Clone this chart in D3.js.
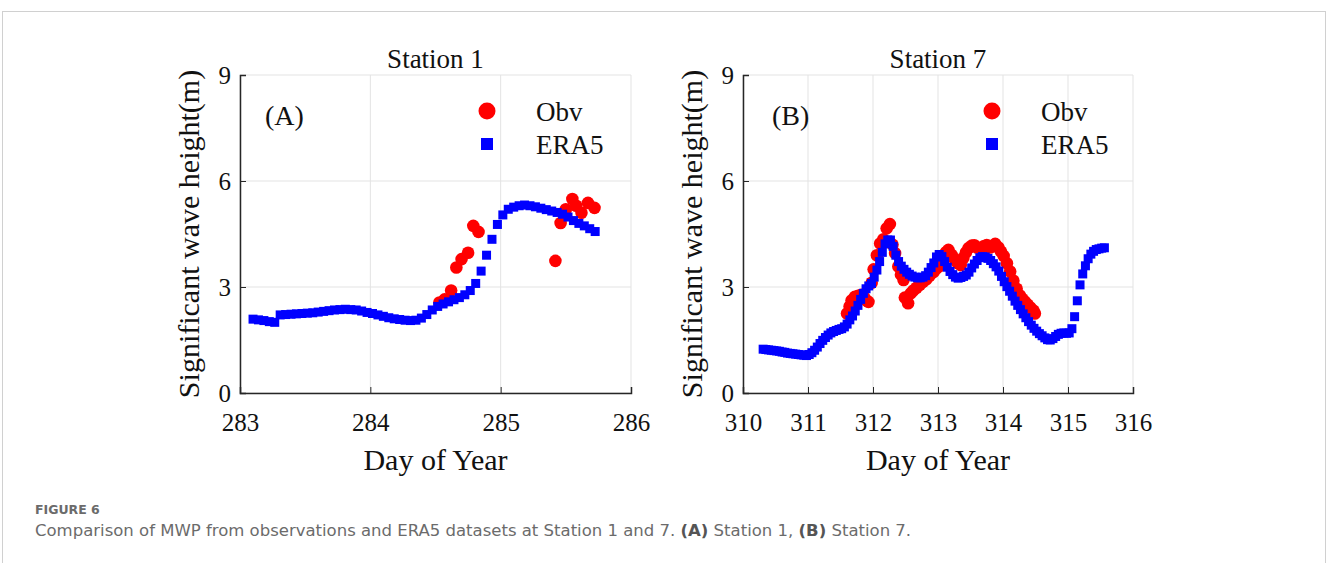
<!DOCTYPE html>
<html>
<head>
<meta charset="utf-8">
<script src="https://cdn.jsdelivr.net/npm/d3@7/dist/d3.min.js"></script>
<style>
  body { margin: 0; background: #fff; }
  svg { display: block; }
  .serif { font-family: "Liberation Serif", "Times New Roman", serif; fill: #111; }
  .cap { font-family: "DejaVu Sans", "Open Sans", sans-serif; fill: #6b6b6b; }
</style>
</head>
<body>
<svg id="chart" width="1328" height="563"></svg>
<script>
// Station 1: hourly ERA5 starting at day 283.1
const era1Start = 283.1;
const era1Hs = [2.09, 2.07, 2.05, 2.02, 2.00, 2.21, 2.22, 2.23, 2.24, 2.25, 2.26, 2.27,
  2.29, 2.31, 2.33, 2.35, 2.36, 2.37, 2.36, 2.35, 2.32, 2.28, 2.25, 2.21,
  2.17, 2.13, 2.10, 2.08, 2.06, 2.05, 2.06, 2.12, 2.22, 2.35, 2.45, 2.52,
  2.58, 2.64, 2.70, 2.78, 2.90, 3.10, 3.45, 3.90, 4.35, 4.77, 5.04, 5.20,
  5.26, 5.30, 5.32, 5.30, 5.27, 5.23, 5.19, 5.15, 5.11, 5.06, 4.98, 4.88,
  4.80, 4.73, 4.65, 4.57];
const obv1Day = [284.53, 284.57, 284.62, 284.66, 284.70, 284.75, 284.79, 284.83,
  285.42, 285.46, 285.50, 285.55, 285.58, 285.62, 285.67, 285.72];
const obv1Hs = [2.56, 2.65, 2.90, 3.55, 3.79, 3.97, 4.73, 4.56,
  3.74, 4.81, 5.20, 5.49, 5.30, 5.10, 5.38, 5.24];

// Station 7: hourly ERA5 starting at day 310.31
const era7Start = 310.31;
const era7Hs = [1.24, 1.23, 1.22, 1.21, 1.20, 1.19, 1.18, 1.16, 1.15, 1.13, 1.12, 1.11,
  1.10, 1.09, 1.08, 1.07, 1.06, 1.09, 1.14, 1.21, 1.30, 1.40, 1.49, 1.57,
  1.64, 1.70, 1.74, 1.77, 1.80, 1.82, 1.87, 1.95, 2.07, 2.18, 2.32, 2.48,
  2.65, 2.82, 2.95, 3.03, 3.10, 3.28, 3.48, 3.72, 3.98, 4.22, 4.33, 4.33,
  4.15, 3.90, 3.72, 3.59, 3.50, 3.42, 3.36, 3.31, 3.28, 3.26, 3.26, 3.28,
  3.32, 3.42, 3.55, 3.68, 3.85, 3.92, 3.86, 3.72, 3.56, 3.44, 3.35, 3.28,
  3.25, 3.27, 3.30, 3.34, 3.42, 3.54, 3.65, 3.75, 3.83, 3.86, 3.85, 3.81,
  3.75, 3.66, 3.57, 3.45, 3.30, 3.15, 3.01, 2.88, 2.74, 2.60, 2.48, 2.36,
  2.24, 2.13, 2.02, 1.92, 1.83, 1.75, 1.68, 1.62, 1.56, 1.51, 1.50, 1.54,
  1.60, 1.66, 1.69, 1.70, 1.69, 1.70, 1.82, 2.16, 2.61, 3.06, 3.37, 3.60,
  3.80, 3.93, 4.01, 4.06, 4.08, 4.10, 4.11];
const obv7Day = [311.60, 311.64, 311.67, 311.72, 311.77, 311.82, 311.86, 311.90, 311.93,
  311.98, 312.01, 312.06, 312.11, 312.16, 312.21, 312.26, 312.30, 312.34, 312.39,
  312.43, 312.47, 312.49, 312.54, 312.58, 312.62, 312.67, 312.72, 312.77, 312.82,
  312.87, 312.93, 312.98, 313.03, 313.08, 313.12, 313.16, 313.21, 313.26, 313.30,
  313.35, 313.39, 313.43, 313.47, 313.52, 313.56, 313.60, 313.65, 313.70, 313.75,
  313.80, 313.84, 313.88, 313.93, 313.97, 314.01, 314.06, 314.11, 314.16, 314.21,
  314.26, 314.30, 314.34, 314.38, 314.42, 314.47, 314.49];
const obv7Hs = [2.25, 2.45, 2.62, 2.72, 2.75, 2.78, 2.72, 2.62, 2.58,
  3.12, 3.50, 3.90, 4.23, 4.35, 4.66, 4.78, 4.20, 3.96, 3.58,
  3.35, 3.20, 2.70, 2.54, 2.82, 2.90, 2.98, 3.06, 3.15, 3.22,
  3.32, 3.42, 3.53, 3.60, 3.75, 3.98, 4.05, 3.91, 3.78, 3.68,
  3.62, 3.82, 3.98, 4.10, 4.17, 4.18, 4.12, 4.10, 4.15, 4.19,
  4.12, 4.15, 4.22, 4.12, 4.00, 3.88, 3.67, 3.44, 3.18, 2.95,
  2.76, 2.66, 2.58, 2.50, 2.42, 2.33, 2.25];

const yTicks = [0, 3, 6, 9];
const xTicks1 = [283, 284, 285, 286];
const xTicks7 = [310, 311, 312, 313, 314, 315, 316];

const svg = d3.select('#chart');
svg.append('rect').attr('width', 1328).attr('height', 563).attr('fill', '#fff');
svg.append('rect').attr('x', 2.5).attr('y', 11.5).attr('width', 1323).attr('height', 600)
  .attr('fill', 'none').attr('stroke', '#d0d0d0');

const plotTop = 75, plotBottom = 393;

function drawPanel(p) {
  const x = d3.scaleLinear().domain(p.domain).range([p.left, p.right]);
  const y = d3.scaleLinear().domain([0, 9]).range([plotBottom, plotTop]);
  const g = svg.append('g');

  // grid
  g.append('g').selectAll('line').data(p.xTicks).join('line')
    .attr('x1', d => x(d)).attr('x2', d => x(d)).attr('y1', plotTop).attr('y2', plotBottom)
    .attr('stroke', '#e3e3e3').attr('stroke-width', 1);
  g.append('g').selectAll('line').data(yTicks).join('line')
    .attr('x1', p.left).attr('x2', p.right).attr('y1', d => y(d)).attr('y2', d => y(d))
    .attr('stroke', '#e3e3e3').attr('stroke-width', 1);

  // axes
  const fmt = d3.format('d');
  const xAxis = d3.axisBottom(x).tickValues(p.xTicks).tickFormat(fmt).tickSize(-6).tickPadding(14);
  const gx = g.append('g').attr('transform', `translate(0,${plotBottom})`).call(xAxis);
  const yAxis = d3.axisLeft(y).tickValues(yTicks).tickFormat(fmt).tickSize(-6).tickPadding(14);
  const gy = g.append('g').attr('transform', `translate(${p.left},0)`).call(yAxis);
  [gx, gy].forEach(a => {
    a.select('.domain').attr('stroke', '#262626').attr('stroke-width', 1.5);
    a.selectAll('.tick line').attr('stroke', '#262626').attr('stroke-width', 1);
    a.selectAll('.tick text').attr('class', 'serif').attr('font-size', 25).attr('fill', '#111');
  });
  gx.selectAll('.tick text').attr('dy', '0.71em').attr('y', 20);
  gy.selectAll('.tick text').attr('x', -9);

  // data: observations first, ERA5 drawn over them
  g.append('g').selectAll('circle').data(p.obvDay).join('circle')
    .attr('cx', d => x(d)).attr('cy', (d, i) => y(p.obvHs[i])).attr('r', 6.3)
    .attr('fill', '#ff0000');
  const s = 9;
  g.append('g').selectAll('rect').data(p.eraHs).join('rect')
    .attr('x', (d, i) => x(p.eraStart + i / 24) - s / 2).attr('y', d => y(d) - s / 2)
    .attr('width', s).attr('height', s).attr('fill', '#0000ff');

  // title, labels
  g.append('text').attr('class', 'serif').attr('x', (p.left + p.right) / 2).attr('y', 68)
    .attr('text-anchor', 'middle').attr('font-size', 27).text(p.title);
  g.append('text').attr('class', 'serif').attr('x', (p.left + p.right) / 2).attr('y', 470)
    .attr('text-anchor', 'middle').attr('font-size', 30).text('Day of Year');
  g.append('text').attr('class', 'serif')
    .attr('transform', `translate(${p.left - 41},${(plotTop + plotBottom) / 2}) rotate(-90)`)
    .attr('text-anchor', 'middle').attr('font-size', 30).text('Significant wave height(m)');
  g.append('text').attr('class', 'serif').attr('x', p.left + p.tagX).attr('y', 125)
    .attr('font-size', 28).text(p.tag);

  // legend
  const lx = p.left + p.legX;
  g.append('circle').attr('cx', lx).attr('cy', 111).attr('r', 8.5).attr('fill', '#ff0000');
  g.append('rect').attr('x', lx - 6).attr('y', 138).attr('width', 12).attr('height', 12).attr('fill', '#0000ff');
  g.append('text').attr('class', 'serif').attr('x', lx + 49).attr('y', 121).attr('font-size', 27).text('Obv');
  g.append('text').attr('class', 'serif').attr('x', lx + 49).attr('y', 154).attr('font-size', 27).text('ERA5');
}

drawPanel({
  left: 240, right: 631, domain: [283, 286], xTicks: xTicks1, title: 'Station 1', tag: '(A)',
  tagX: 25, legX: 247, obvDay: obv1Day, obvHs: obv1Hs, eraStart: era1Start, eraHs: era1Hs
});
drawPanel({
  left: 743, right: 1133, domain: [310, 316], xTicks: xTicks7, title: 'Station 7', tag: '(B)',
  tagX: 29, legX: 249, obvDay: obv7Day, obvHs: obv7Hs, eraStart: era7Start, eraHs: era7Hs
});

// caption
svg.append('text').attr('class', 'cap').attr('x', 35).attr('y', 514)
  .attr('font-size', 12.5).attr('font-weight', 700).attr('fill', '#666').text('FIGURE 6');
const cap = svg.append('text').attr('class', 'cap').attr('x', 35).attr('y', 536).attr('font-size', 16.5);
cap.append('tspan').text('Comparison of MWP from observations and ERA5 datasets at Station 1 and 7. ');
cap.append('tspan').attr('font-weight', 700).attr('fill', '#555').text('(A)');
cap.append('tspan').text(' Station 1, ');
cap.append('tspan').attr('font-weight', 700).attr('fill', '#555').text('(B)');
cap.append('tspan').text(' Station 7.');
</script>
</body>
</html>
